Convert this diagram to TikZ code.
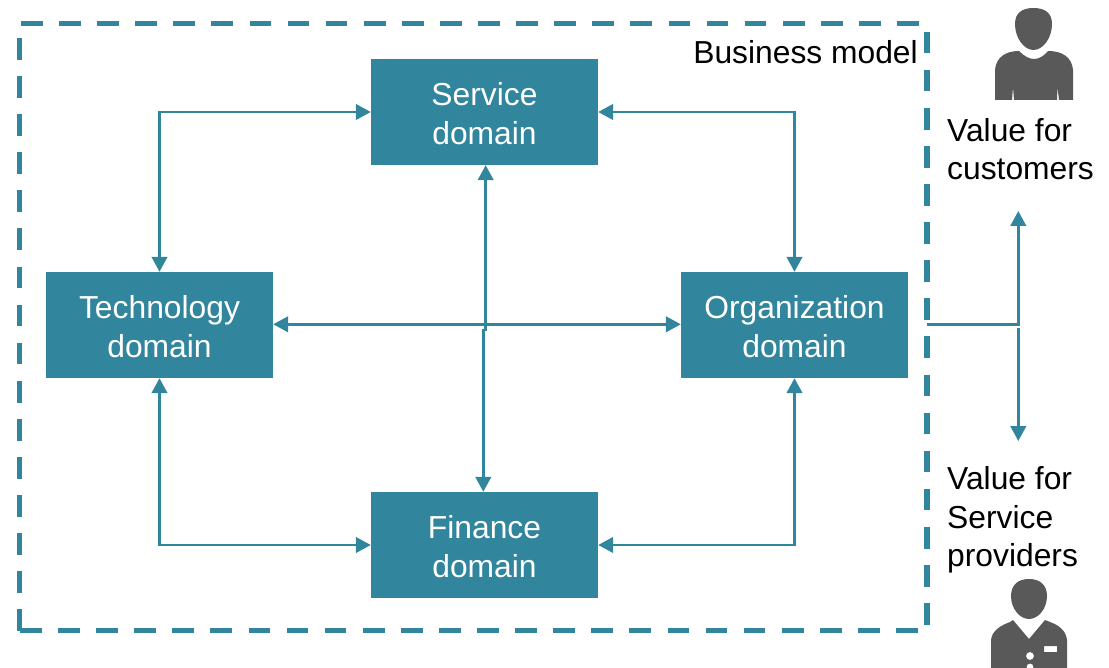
\documentclass[tikz,border=0pt]{standalone}
\usepackage{fontspec}
\setmainfont{Liberation Sans}
\usetikzlibrary{arrows.meta}
\definecolor{teal}{HTML}{31859C}
\definecolor{icon}{HTML}{595959}
\newcommand{\boxtxt}[2]{\raisebox{-11.25pt}[0pt][0pt]{\begin{tabular}{@{}c@{}}#1\\#2\end{tabular}}}
\tikzset{
  dom/.style={fill=teal,text=white,minimum width=227pt,minimum height=106pt,inner sep=0pt,font=\fontsize{31.8}{38.7}\selectfont},
  lbl/.style={anchor=west,inner sep=0pt,align=left,text=black,font=\fontsize{31.8}{38.7}\selectfont},
  conn/.style={draw=teal,line width=2.7pt},
  two/.style={conn,{Triangle[width=15.5pt,length=15pt]}-{Triangle[width=15.5pt,length=15pt]}},
  up/.style={conn,{Triangle[width=15.5pt,length=15pt]}-},
  dn/.style={conn,-{Triangle[width=15.5pt,length=15pt]}},
  side/.style={draw=teal,line width=5.3pt}
}
\begin{document}
\begin{tikzpicture}[x=1pt,y=-1pt]
\useasboundingbox (0,0) rectangle (1109,668);
% dashed frame
\foreach \k in {0,...,23} \draw[side] ({21+38.09*\k},23.2) -- ++(21.7,0);
\foreach \k in {0,...,15} \draw[side] (927,{31.7+38.09*\k}) -- ++(0,21.7);
\foreach \k in {0,...,23} \draw[side] ({20+38.09*\k},630.7) -- ++(21.7,0);
\foreach \k in {0,...,15} \draw[side] (19.7,{38+38.09*\k}) -- ++(0,21.7);
% boxes
\node[dom] (svc) at (484.5,112) {\boxtxt{Service}{domain}};
\node[dom] (tech) at (159.5,325) {\boxtxt{Technology}{domain}};
\node[dom] (org) at (794.5,325) {\boxtxt{Organization}{domain}};
\node[dom] (fin) at (484.5,545) {\boxtxt{Finance}{domain}};
% labels
\node[lbl,anchor=east] (bm) at (918,52) {Business model};
\node[lbl] (vc) at (947,149) {Value for\\customers};
\node[lbl] (vs) at (947,520) {Value for\\Service\\providers};
% connectors
\draw[two] (svc.west) -| (tech.north);
\draw[two] (svc.east) -| (org.north);
\draw[two] (tech.south) |- (fin.west);
\draw[two] (org.south) |- (fin.east);
\draw[two] ([yshift=.7pt]tech.east) -- ([yshift=.7pt]org.west);
\coordinate (j1) at (485.7,330);
\coordinate (j2) at (483.3,330);
\draw[two] ([xshift=1.2pt]svc.south) -- (j1) -- (j2) -- ([xshift=-1.2pt]fin.north);
\coordinate (vt) at (1018.3,211);
\coordinate (vu) at (1018.3,325.6);
\coordinate (vl) at (1018.3,328);
\coordinate (vb) at (1018.3,441);
\coordinate (vm) at (1019.6,324.3);
\coordinate (os) at (926.7,324.3);
\draw[up] (vt) -- (vu);
\draw[dn] (vl) -- (vb);
\draw[conn] (os) -- (vm);
% customer icon
\fill[icon] (1033.5,8) .. controls (1022,8) and (1015,13) .. (1015,24) .. controls (1015,38) and (1024,50) .. (1033.5,50)
  .. controls (1043,50) and (1052,38) .. (1052,24) .. controls (1052,13) and (1045,8) .. (1033.5,8) -- cycle;
\fill[icon] (995,100) -- (995,70) .. controls (996,57) and (1006,51) .. (1019,51)
  .. controls (1024,56) and (1029,59) .. (1034,59) .. controls (1039,59) and (1044,56) .. (1048,51)
  .. controls (1062,51) and (1072,57) .. (1073,70) -- (1073,100) -- (1059,100) -- (1057.5,87) -- (1057,100)
  -- (1014,100) -- (1013,87) -- (1012,100) -- cycle;
% provider icon
\fill[icon] (1029,579) .. controls (1018,579) and (1011,585) .. (1011,596) .. controls (1011,609) and (1020,619) .. (1029,619)
  .. controls (1038,619) and (1047,609) .. (1047,596) .. controls (1047,585) and (1040,579) .. (1029,579) -- cycle;
\fill[icon,even odd rule] (991,668) -- (991,640) .. controls (992,630) and (1002,625) .. (1010,622) -- (1013,620)
  -- (1029,639) -- (1045,620) -- (1050,622) .. controls (1058,625) and (1066,630) .. (1067,640) -- (1067,668) -- cycle
  (1044,646) rectangle (1057,652)
  (1030,656) circle (4pt)
  (1030,667) circle (3.5pt);
\end{tikzpicture}
\end{document}
